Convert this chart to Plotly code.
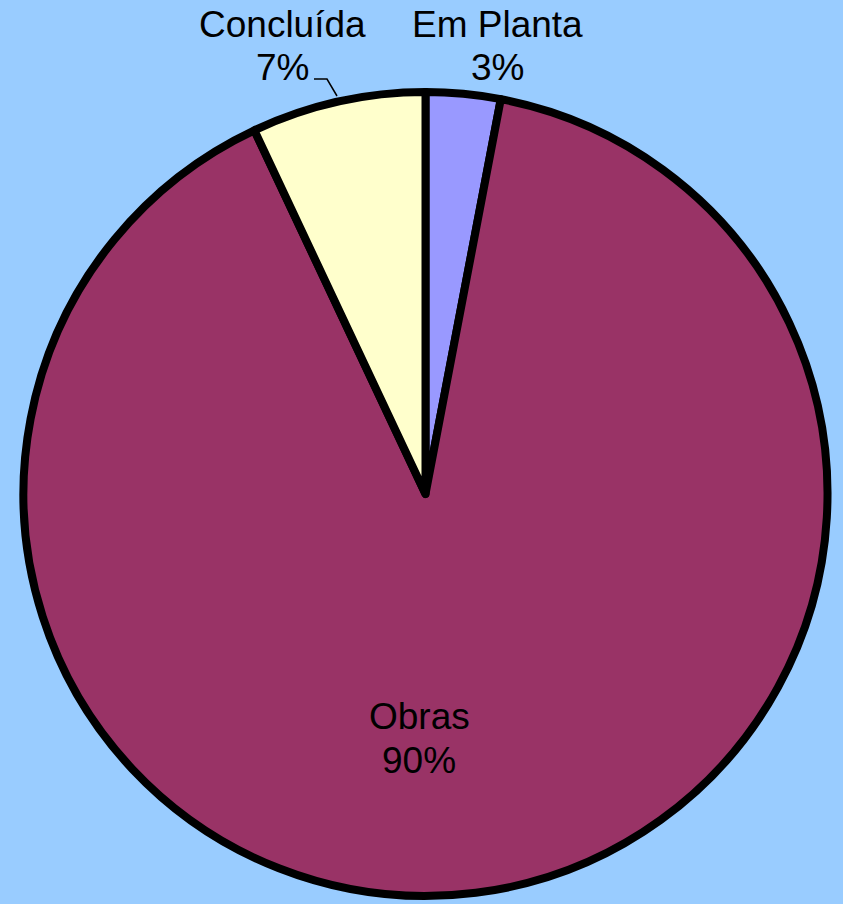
import plotly.graph_objects as go

labels = ["Em Planta", "Obras", "Concluída"]
values = [3, 90, 7]
colors = ["#9999FF", "#993366", "#FFFFCC"]

W, H = 843, 904
# label anchor positions in pixels (center x, baseline of line 1, baseline of line 2)
label_pos = {
    "Em Planta": (497, 37, 80),
    "Obras": (419, 729, 773),
    "Concluída": (282, 37, 80),
}
FS = 37

fig = go.Figure(go.Pie(
    labels=labels,
    values=values,
    sort=False,
    direction="clockwise",
    rotation=0,
    marker=dict(colors=colors, line=dict(color="#000000", width=8)),
    textinfo="none",
    showlegend=False,
    hoverinfo="label+percent",
    domain=dict(x=[20/W, 831/W], y=[8/H, 812/H]),
    automargin=False,
))

total = sum(values)
font = dict(family="Liberation Sans, Arial, sans-serif", size=FS, color="#000000")
for lab, val in zip(labels, values):
    cx, b1, b2 = label_pos[lab]
    pct = f"{round(100*val/total)}%"
    for txt, base in ((lab, b1), (pct, b2)):
        yc = base - 0.3465*FS
        fig.add_annotation(text=txt, x=cx/W, y=1 - yc/H, xref="paper", yref="paper",
                           xanchor="center", yanchor="middle", showarrow=False,
                           font=font, borderpad=0)

# leader line for Concluída
pts = [(314, 79), (327, 79), (337, 96)]
path = "M " + " L ".join(f"{x/W},{1 - y/H}" for x, y in pts)
fig.add_shape(type="path", path=path, xref="paper", yref="paper",
              line=dict(color="#000000", width=1.5))

fig.update_layout(
    width=W, height=H,
    margin=dict(l=0, r=0, t=0, b=0),
    paper_bgcolor="#99CCFF",
    plot_bgcolor="#99CCFF",
)

fig.write_html("out.html",
               config={"displayModeBar": False},
               post_script="document.body.style.margin='0px';document.body.style.background='#99CCFF';")
